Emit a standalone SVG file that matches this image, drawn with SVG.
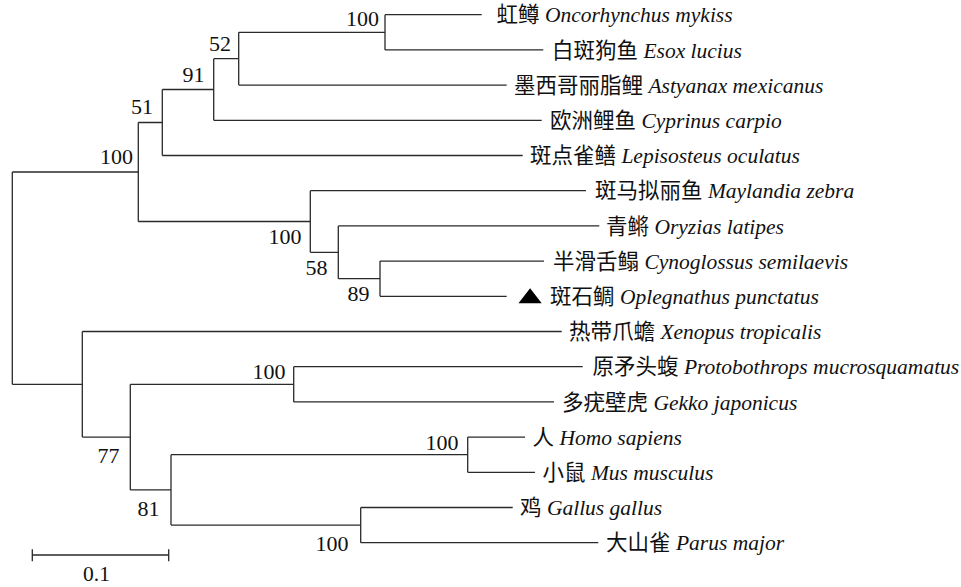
<svg xmlns="http://www.w3.org/2000/svg" width="961" height="587" viewBox="0 0 961 587">
<style>
.e{fill:none;stroke:#2a2a2a;stroke-width:1.3}
text{font-family:"Liberation Serif","Noto Sans CJK SC",serif;font-size:21.5px;fill:#111}
.b{text-anchor:end;font-size:22px}
.i{font-style:italic}
</style>
<rect width="961" height="587" fill="#fff"/>
<g id="connectors">
<path class="e" d="M12.3 172V384.3"/>
<path class="e" d="M12.3 172H138.3M12.3 384.3H82.3"/>
<path class="e" d="M138.3 122.5V221.5M138.3 122.5H162.3M138.3 221.5H310.3"/>
<path class="e" d="M162.3 89.5V155.5M162.3 89.5H213.7M162.3 155.5H522.7"/>
<path class="e" d="M213.7 58.7V120.3M213.7 58.7H238.7M213.7 120.3H541.7"/>
<path class="e" d="M238.7 32.3V85.1M238.7 32.3H385M238.7 85.1H506.7"/>
<path class="e" d="M385 14.7V49.9M385 14.7H481.7M385 49.9H543.3"/>
<path class="e" d="M310.3 190.7V252.3M310.3 190.7H586M310.3 252.3H338.3"/>
<path class="e" d="M338.3 225.9V278.7M338.3 225.9H599.3M338.3 278.7H380"/>
<path class="e" d="M380 261.1V296.3M380 261.1H544M380 296.3H506.7"/>
<path class="e" d="M82.3 331.5V437.1M82.3 331.5H561.7M82.3 437.1H130.3"/>
<path class="e" d="M130.3 384.3V489.9M130.3 384.3H293.7M130.3 489.9H171"/>
<path class="e" d="M293.7 366.7V401.9M293.7 366.7H582.7M293.7 401.9H554"/>
<path class="e" d="M171 454.7V525.1M171 454.7H467.7M171 525.1H360.7"/>
<path class="e" d="M467.7 437.1V472.3M467.7 437.1H525M467.7 472.3H535"/>
<path class="e" d="M360.7 507.5V542.7M360.7 507.5H512.7M360.7 542.7H598.3"/>
</g>
<g id="leaf-oncorhynchus"><text x="496.5" y="22.3">虹鳟 <tspan class="i">Oncorhynchus mykiss</tspan></text></g>
<g id="leaf-esox"><text x="552" y="57.5">白斑狗鱼 <tspan class="i">Esox lucius</tspan></text></g>
<g id="leaf-astyanax"><text x="514" y="92.7">墨西哥丽脂鲤 <tspan class="i">Astyanax mexicanus</tspan></text></g>
<g id="leaf-cyprinus"><text x="550" y="127.9">欧洲鲤鱼 <tspan class="i">Cyprinus carpio</tspan></text></g>
<g id="leaf-lepisosteus"><text x="530" y="163.1">斑点雀鳝 <tspan class="i">Lepisosteus oculatus</tspan></text></g>
<g id="leaf-maylandia"><text x="595" y="198.3">斑马拟丽鱼 <tspan class="i">Maylandia zebra</tspan></text></g>
<g id="leaf-oryzias"><text x="606" y="233.5">青鳉 <tspan class="i">Oryzias latipes</tspan></text></g>
<g id="leaf-cynoglossus"><text x="553" y="268.7">半滑舌鳎 <tspan class="i">Cynoglossus semilaevis</tspan></text></g>
<g id="leaf-oplegnathus"><polygon points="518.5,303.3 541.7,303.3 530.1,288.3" fill="#000"/><text x="550" y="303.9">斑石鲷 <tspan class="i">Oplegnathus punctatus</tspan></text></g>
<g id="leaf-xenopus"><text x="569" y="339.1">热带爪蟾 <tspan class="i">Xenopus tropicalis</tspan></text></g>
<g id="leaf-protobothrops"><text x="592.5" y="374.3">原矛头蝮 <tspan class="i">Protobothrops mucrosquamatus</tspan></text></g>
<g id="leaf-gekko"><text x="562" y="409.5">多疣壁虎 <tspan class="i">Gekko japonicus</tspan></text></g>
<g id="leaf-homo"><text x="532.5" y="444.7">人 <tspan class="i">Homo sapiens</tspan></text></g>
<g id="leaf-mus"><text x="542.5" y="479.9">小鼠 <tspan class="i">Mus musculus</tspan></text></g>
<g id="leaf-gallus"><text x="520" y="515.1">鸡 <tspan class="i">Gallus gallus</tspan></text></g>
<g id="leaf-parus"><text x="606" y="550.3">大山雀 <tspan class="i">Parus major</tspan></text></g>
<g id="node-trout"><text class="b" x="379" y="25.5">100</text></g>
<g id="node-52"><text class="b" x="231" y="50.7">52</text></g>
<g id="node-91"><text class="b" x="204.5" y="82">91</text></g>
<g id="node-51"><text class="b" x="153" y="114.3">51</text></g>
<g id="node-fish"><text class="b" x="133" y="164.3">100</text></g>
<g id="node-perc"><text class="b" x="301.5" y="244">100</text></g>
<g id="node-58"><text class="b" x="327.5" y="275">58</text></g>
<g id="node-89"><text class="b" x="369.5" y="300.7">89</text></g>
<g id="node-squam"><text class="b" x="285.5" y="379">100</text></g>
<g id="node-77"><text class="b" x="119.5" y="463.3">77</text></g>
<g id="node-81"><text class="b" x="159.5" y="515.7">81</text></g>
<g id="node-mammal"><text class="b" x="458.5" y="450">100</text></g>
<g id="node-bird"><text class="b" x="348.5" y="551">100</text></g>
<g id="scale">
<path class="e" d="M32.3 555H168.7M32.3 549.3V561.3M168.7 549.3V561.3"/>
<text x="96.5" y="580.7" text-anchor="middle">0.1</text>
</g>
</svg>
